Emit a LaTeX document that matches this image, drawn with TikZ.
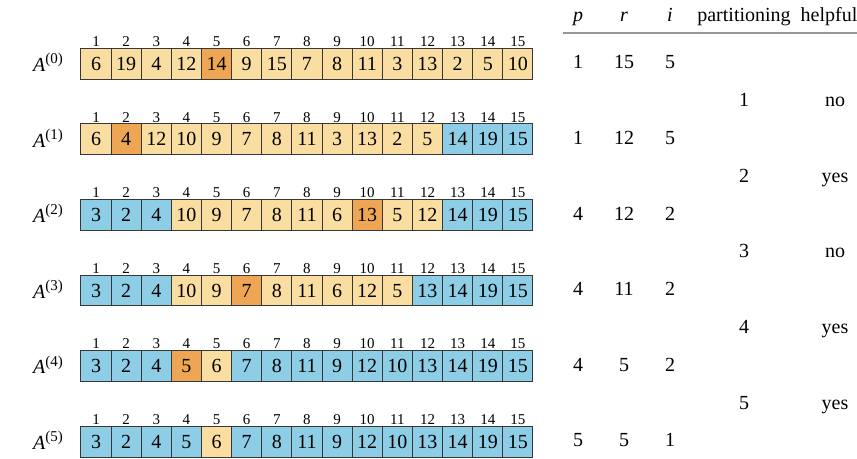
\documentclass[tikz,border=0pt]{standalone}
\usepackage{fontspec}
\setmainfont{Liberation Serif}
\usetikzlibrary{positioning,calc}
\definecolor{lightcell}{RGB}{250,221,160}
\definecolor{pivotcell}{RGB}{238,166,84}
\definecolor{donecell}{RGB}{142,205,230}
\definecolor{cellline}{RGB}{55,55,55}
\definecolor{ruleline}{RGB}{150,150,150}
\tikzset{cell/.style={draw=cellline, line width=0.5pt, minimum width=15.07pt, minimum height=15.35pt, inner sep=0pt, outer sep=0pt, text height=6.6pt, text depth=0pt, font=\fontsize{10}{12}\selectfont},
lo/.style={fill=lightcell}, pv/.style={fill=pivotcell}, dn/.style={fill=donecell},
idx/.style={inner sep=0pt, text height=4.9pt, text depth=0pt, font=\fontsize{7.5}{9}\selectfont},
arrlabel/.style={inner sep=0pt, font=\fontsize{10}{12}\selectfont},
tab/.style={inner sep=1pt, text height=7pt, text depth=1.8pt, font=\fontsize{10}{12}\selectfont}}

\begin{document}
\begin{tikzpicture}[x=0.5pt, y=0.5pt]
\useasboundingbox (0,0) rectangle (857,459);
% arrays
\foreach \k/\vals in {
 0/{6/lo,19/lo,4/lo,12/lo,14/pv,9/lo,15/lo,7/lo,8/lo,11/lo,3/lo,13/lo,2/lo,5/lo,10/lo},
 1/{6/lo,4/pv,12/lo,10/lo,9/lo,7/lo,8/lo,11/lo,3/lo,13/lo,2/lo,5/lo,14/dn,19/dn,15/dn},
 2/{3/dn,2/dn,4/dn,10/lo,9/lo,7/lo,8/lo,11/lo,6/lo,13/pv,5/lo,12/lo,14/dn,19/dn,15/dn},
 3/{3/dn,2/dn,4/dn,10/lo,9/lo,7/pv,8/lo,11/lo,6/lo,12/lo,5/lo,13/dn,14/dn,19/dn,15/dn},
 4/{3/dn,2/dn,4/dn,5/pv,6/lo,7/dn,8/dn,11/dn,9/dn,12/dn,10/dn,13/dn,14/dn,19/dn,15/dn},
 5/{3/dn,2/dn,4/dn,5/dn,6/lo,7/dn,8/dn,11/dn,9/dn,12/dn,10/dn,13/dn,14/dn,19/dn,15/dn}}{
  \node[arrlabel] (lab\k) at (48,{396.5-75.6*\k}) {\textit{A}\raisebox{0.85ex}{\fontsize{7.5}{9}\selectfont(\k)}};
  \foreach \v/\c [count=\j] in \vals {
    \node[cell,\c] (c\k-\j) at ({81+30.13*(\j-0.5)},{395.3-75.6*\k}) {\v};
    \node[idx] (i\k-\j) at ($(c\k-\j)+(0,22)$) {\j};
  }
}
% table header
\node[tab] (hp) at (578,443) {\textit{p}};
\node[tab] (hr) at (624,443) {\textit{r}};
\node[tab] (hi) at (670,443) {\textit{i}};
\node[tab] (hpart) at (744,443) {partitioning};
\node[tab] (hhelp) at (829,443) {helpful};
\coordinate (rl) at (563,426);
\coordinate (rr) at (857,426);
\draw[ruleline, line width=0.8pt] (rl) -- (rr);
% p r i per array
\foreach \k/\p/\r/\i in {0/1/15/5,1/1/12/5,2/4/12/2,3/4/11/2,4/4/5/2,5/5/5/1}{
  \node[tab] (tp\k) at (578,{395.3-75.6*\k}) {\p};
  \node[tab] (tr\k) at (624,{395.3-75.6*\k}) {\r};
  \node[tab] (ti\k) at (670,{395.3-75.6*\k}) {\i};
}
% partitioning steps
\foreach \n/\h in {1/no,2/yes,3/no,4/yes,5/yes}{
  \node[tab] (pn\n) at (744,{395.3-75.6*(\n-0.5)}) {\n};
  \node[tab] (ph\n) at (835,{395.3-75.6*(\n-0.5)}) {\h};
}
\end{tikzpicture}
\end{document}
